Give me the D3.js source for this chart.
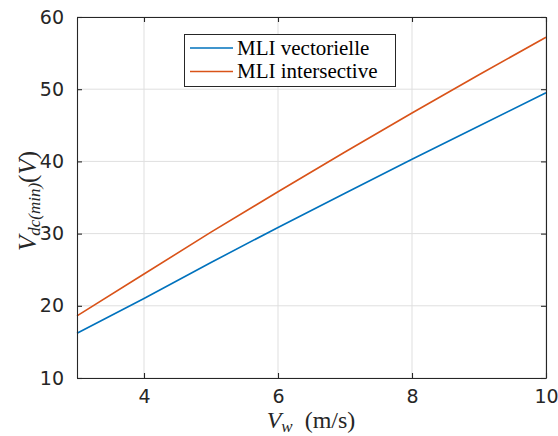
<!DOCTYPE html>
<html><head><meta charset="utf-8">
<script src="https://cdn.jsdelivr.net/npm/d3@7"></script>
<style>body{margin:0;background:#fff;} svg{display:block;}</style>
</head><body><div id="chart"></div>
<script>
const windSpeed = [3, 4, 5, 6, 7, 8, 9, 10];
const vectorielle = [16.2, 21.0, 26.0, 30.85, 35.6, 40.3, 44.9, 49.5];
const intersective = [18.6, 24.4, 30.2, 35.8, 41.3, 46.7, 52.0, 57.2];
const seriesNames = ["MLI vectorielle", "MLI intersective"];
const seriesColors = ["#0072BD", "#D95319"];
const xTicks = [4, 6, 8, 10];
const yTicks = [10, 20, 30, 40, 50, 60];

const W = 558, H = 436;
const m = {left: 77, right: 12, top: 17, bottom: 58};
const svg = d3.select("#chart").append("svg").attr("width", W).attr("height", H);
const x = d3.scaleLinear().domain([3, 10]).range([m.left, W - m.right]);
const y = d3.scaleLinear().domain([10, 60]).range([H - m.bottom, m.top]);
const axisColor = "#262626";
const tickFont = "DejaVu Sans, sans-serif";

// grid
const g = svg.append("g");
g.selectAll(".gx").data(xTicks).join("line")
  .attr("x1", d => x(d)).attr("x2", d => x(d)).attr("y1", y(10)).attr("y2", y(60))
  .attr("stroke", "#dfdfdf").attr("stroke-width", 1);
g.selectAll(".gy").data(yTicks).join("line")
  .attr("y1", d => y(d)).attr("y2", d => y(d)).attr("x1", x(3)).attr("x2", x(10))
  .attr("stroke", "#dfdfdf").attr("stroke-width", 1);

// lines
const dataSets = [vectorielle, intersective];
const line = d3.line().x((d, i) => x(windSpeed[i])).y(d => y(d));
dataSets.forEach((ds, k) => {
  svg.append("path").datum(ds).attr("d", line).attr("fill", "none")
    .attr("stroke", seriesColors[k]).attr("stroke-width", 1.6);
});

// axes
function styleAxis(sel) {
  sel.selectAll("path").attr("stroke", axisColor).attr("stroke-width", 1.1);
  sel.selectAll("line").attr("stroke", axisColor).attr("stroke-width", 1.1);
  sel.selectAll("text").attr("fill", axisColor).style("font-family", tickFont).style("font-size", "19px");
}
const fmt = d3.format("d");
const xb = svg.append("g").attr("transform", `translate(0,${y(10)})`)
  .call(d3.axisBottom(x).tickValues(xTicks).tickFormat(fmt).tickSizeInner(-5).tickSizeOuter(0).tickPadding(12));
styleAxis(xb);
const xt = svg.append("g").attr("transform", `translate(0,${y(60)})`)
  .call(d3.axisTop(x).tickValues(xTicks).tickSizeInner(-5).tickSizeOuter(0).tickFormat(""));
styleAxis(xt);
const yl = svg.append("g").attr("transform", `translate(${x(3)},0)`)
  .call(d3.axisLeft(y).tickValues(yTicks).tickFormat(fmt).tickSizeInner(-5).tickSizeOuter(0).tickPadding(13));
styleAxis(yl);
const yr = svg.append("g").attr("transform", `translate(${x(10)},0)`)
  .call(d3.axisRight(y).tickValues(yTicks).tickSizeInner(-5).tickSizeOuter(0).tickFormat(""));
styleAxis(yr);

// axis labels
const serif = "Liberation Serif, DejaVu Serif, serif";
const xlab = svg.append("text").attr("x", 311).attr("y", 428).attr("text-anchor", "middle")
  .style("font-family", serif).style("font-size", "24px").attr("fill", axisColor);
xlab.append("tspan").text("V").style("font-style", "italic");
xlab.append("tspan").text("w").style("font-style", "italic").style("font-size", "17px").attr("dy", 4);
xlab.append("tspan").text("\u2002(m/s)").attr("dy", -4);

const ylab = svg.append("text").attr("transform", "translate(36,201) rotate(-90)").attr("text-anchor", "middle")
  .style("font-family", serif).style("font-size", "25px").attr("fill", axisColor);
ylab.append("tspan").text("V").style("font-style", "italic");
ylab.append("tspan").text("dc(min)").style("font-style", "italic").style("font-size", "17px").attr("dy", 4);
ylab.append("tspan").text("(").attr("dy", -4);
ylab.append("tspan").text("V").style("font-style", "italic");
ylab.append("tspan").text(")");

// legend
const lg = svg.append("g");
lg.append("rect").attr("x", 184.5).attr("y", 34.5).attr("width", 211).attr("height", 52)
  .attr("fill", "#fff").attr("stroke", axisColor).attr("stroke-width", 1);
seriesNames.forEach((name, i) => {
  const cy = 48 + i * 23.5;
  lg.append("line").attr("x1", 190).attr("x2", 233).attr("y1", cy).attr("y2", cy)
    .attr("stroke", seriesColors[i]).attr("stroke-width", 1.6);
  lg.append("text").attr("x", 237).attr("y", cy + 6.5).text(name)
    .style("font-family", serif).style("font-size", "21px").attr("fill", "#000");
});
</script></body></html>
